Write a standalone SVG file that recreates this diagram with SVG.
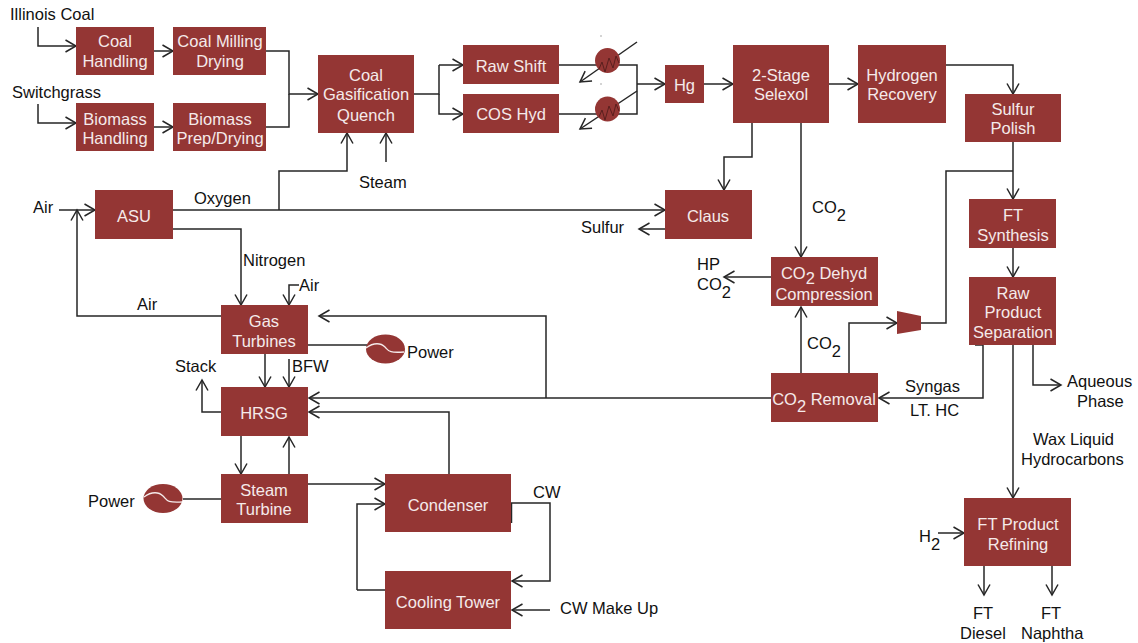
<svg xmlns="http://www.w3.org/2000/svg" width="1138" height="643" viewBox="0 0 1138 643">
<style>
.b{fill:#943634}
.w{font:16.5px "Liberation Sans",Arial,sans-serif;fill:#f5eaea;text-anchor:middle}
.t{font:16.5px "Liberation Sans",Arial,sans-serif;fill:#111}
.c path{fill:none;stroke:#262626;stroke-width:1.5}
.a{marker-end:url(#ah)}
.z{fill:none;stroke:#5a1f1e;stroke-width:1}
.g{fill:none;stroke:#f5eaea;stroke-width:1.300}
</style>
<defs>
<marker id="ah" markerUnits="userSpaceOnUse" markerWidth="14" markerHeight="16" refX="12" refY="8" orient="auto"><path d="M1.500 2L12 8L1.500 14" fill="none" stroke="#262626" stroke-width="1.500"/></marker>
</defs>
<rect width="1138" height="643" fill="#fff"/>
<g id="connectors" class="c">
<path class="a" d="M38 27V46H76"/>
<path class="a" d="M38 104V123H76"/>
<path class="a" d="M154 51H173"/>
<path class="a" d="M154 127H173"/>
<path class="a" d="M266 51H289V94H318"/>
<path d="M266 127H289V94"/>
<path d="M414 94H439V65"/>
<path class="a" d="M439 65H463"/>
<path class="a" d="M439 94V114H463"/>
<path d="M559 65H637V114H559"/>
<path class="a" d="M637 84H665"/>
<path class="a" d="M637 42L580 82"/>
<path class="a" d="M637 91L580 129"/>
<path class="a" d="M704 84H733"/>
<path class="a" d="M829 84H858"/>
<path class="a" d="M946 65H1013V94"/>
<path class="a" d="M752 123V157H724V190"/>
<path class="a" d="M801 123V257"/>
<path class="a" d="M801 373V307"/>
<path class="a" d="M771 277H724"/>
<path class="a" d="M849 373V323H897"/>
<path d="M921 323H946V171H1013"/>
<path class="a" d="M1013 142V199"/>
<path class="a" d="M1013 248V277"/>
<path class="a" d="M975 345H983V398H879"/>
<path class="a" d="M1033 345V385H1061"/>
<path class="a" d="M1013 345V498"/>
<path class="a" d="M938 533H964"/>
<path class="a" d="M984 566V595"/>
<path class="a" d="M1052 566V595"/>
<path class="a" d="M59 210H95"/>
<path class="a" d="M173 210H665"/>
<path class="a" d="M279 210V171H347V133"/>
<path class="a" d="M386 162V133"/>
<path class="a" d="M173 229H241V305"/>
<path class="a" d="M221 316H77V210"/>
<path class="a" d="M299 285H289V305"/>
<path class="a" d="M665 229H639"/>
<path class="a" d="M771 398H309"/>
<path class="a" d="M546 398V316H319"/>
<path d="M308 345H367"/>
<path class="a" d="M265 354V387"/>
<path class="a" d="M289 359V387"/>
<path class="a" d="M221 412H202V380"/>
<path class="a" d="M241 436V474"/>
<path class="a" d="M289 474V437"/>
<path class="a" d="M449 474V412H309"/>
<path d="M183 499H221"/>
<path class="a" d="M308 484H385"/>
<path class="a" d="M357 590V504H385"/>
<path d="M385 590H357"/>
<path d="M511.500 523V503"/>
<path class="a" d="M511 503H550V581H512"/>
<path class="a" d="M550 610H512"/>
</g>
<g id="coal-handling"><rect class="b" x="76" y="27" width="78" height="48"/><text class="w" x="115" y="47">Coal</text><text class="w" x="115" y="67">Handling</text></g>
<g id="coal-milling"><rect class="b" x="173" y="27" width="93" height="48"/><text class="w" x="220" y="47">Coal Milling</text><text class="w" x="220" y="67">Drying</text></g>
<g id="biomass-handling"><rect class="b" x="76" y="103" width="78" height="48"/><text class="w" x="115" y="125">Biomass</text><text class="w" x="115" y="144">Handling</text></g>
<g id="biomass-prep"><rect class="b" x="173" y="103" width="93" height="48"/><text class="w" x="220" y="125">Biomass</text><text class="w" x="220" y="144">Prep/Drying</text></g>
<g id="gasification"><rect class="b" x="318" y="55" width="96" height="78"/><text class="w" x="366" y="81">Coal</text><text class="w" x="366" y="100">Gasification</text><text class="w" x="366" y="121">Quench</text></g>
<g id="raw-shift"><rect class="b" x="463" y="45" width="96" height="39"/><text class="w" x="511" y="72">Raw Shift</text></g>
<g id="cos-hyd"><rect class="b" x="463" y="94" width="96" height="39"/><text class="w" x="511" y="120">COS Hyd</text></g>
<g id="hx1"><circle class="b" cx="607.500" cy="60.500" r="12.500"/><path class="z" d="M599 69L602 62L605 72L609 58L613 68L616 56L619 63"/><rect x="600.500" y="35.500" width="1" height="1" fill="#555"/></g>
<g id="hx2"><circle class="b" cx="607.500" cy="109" r="12.500"/><path class="z" d="M599 117L602 110L605 120L609 106L613 116L616 104L619 111"/><rect x="600.500" y="83.500" width="1" height="1" fill="#555"/></g>
<g id="hg"><rect class="b" x="665" y="65" width="39" height="38"/><text class="w" x="684.500" y="91">Hg</text></g>
<g id="selexol"><rect class="b" x="733" y="45" width="96" height="78"/><text class="w" x="781" y="81">2-Stage</text><text class="w" x="781" y="100">Selexol</text></g>
<g id="hydrogen-recovery"><rect class="b" x="858" y="45" width="88" height="78"/><text class="w" x="902" y="81">Hydrogen</text><text class="w" x="902" y="100">Recovery</text></g>
<g id="sulfur-polish"><rect class="b" x="965" y="94" width="96" height="48"/><text class="w" x="1013" y="115">Sulfur</text><text class="w" x="1013" y="134">Polish</text></g>
<g id="asu"><rect class="b" x="95" y="190" width="78" height="49"/><text class="w" x="134" y="222">ASU</text></g>
<g id="claus"><rect class="b" x="665" y="190" width="87" height="49"/><text class="w" x="708" y="222">Claus</text></g>
<g id="ft-synthesis"><rect class="b" x="969" y="199" width="87" height="49"/><text class="w" x="1013" y="221">FT</text><text class="w" x="1013" y="241">Synthesis</text></g>
<g id="raw-product"><rect class="b" x="969" y="277" width="87" height="68"/><text class="w" x="1013" y="299">Raw</text><text class="w" x="1013" y="318">Product</text><text class="w" x="1013" y="338">Separation</text></g>
<g id="co2-dehyd"><rect class="b" x="771" y="257" width="107" height="49"/><text class="w" x="824" y="279">CO<tspan dy="5">2</tspan><tspan dy="-5"> Dehyd</tspan></text><text class="w" x="824" y="300">Compression</text></g>
<g id="co2-removal"><rect class="b" x="771" y="373" width="107" height="49"/><text class="w" x="824" y="405">CO<tspan dy="7">2</tspan><tspan dy="-7"> Removal</tspan></text></g>
<g id="compressor"><path class="b" d="M897 311L921 316V330L897 334Z"/></g>
<g id="gas-turbines"><rect class="b" x="221" y="305" width="87" height="49"/><text class="w" x="264" y="327">Gas</text><text class="w" x="264" y="347">Turbines</text></g>
<g id="hrsg"><rect class="b" x="221" y="387" width="87" height="49"/><text class="w" x="264" y="419">HRSG</text></g>
<g id="steam-turbine"><rect class="b" x="221" y="474" width="87" height="49"/><text class="w" x="264" y="496">Steam</text><text class="w" x="264" y="515">Turbine</text></g>
<g id="condenser"><rect class="b" x="385" y="474" width="126" height="58"/><text class="w" x="448" y="511">Condenser</text></g>
<g id="cooling-tower"><rect class="b" x="385" y="571" width="126" height="58"/><text class="w" x="448" y="608">Cooling Tower</text></g>
<g id="ft-refining"><rect class="b" x="964" y="498" width="107" height="68"/><text class="w" x="1018" y="530">FT Product</text><text class="w" x="1018" y="550">Refining</text></g>
<g id="gen1"><ellipse class="b" cx="385.500" cy="349" rx="19.500" ry="14.500"/><path class="g" d="M366 348C374 342 381 343 385 347S388 353 404 352"/></g>
<g id="gen2"><ellipse class="b" cx="163" cy="498.500" rx="19.500" ry="14.500"/><path class="g" d="M144 497C152 491 159 492 163 496S166 503 182 502"/></g>
<g id="labels" class="t">
<text x="10" y="20">Illinois Coal</text>
<text x="12" y="98">Switchgrass</text>
<text x="33" y="213">Air</text>
<text x="194" y="204">Oxygen</text>
<text x="359" y="188">Steam</text>
<text x="581" y="233">Sulfur</text>
<text x="812" y="213">CO<tspan dy="8">2</tspan></text>
<text x="697" y="270">HP</text>
<text x="697" y="290">CO<tspan dy="8">2</tspan></text>
<text x="807" y="349">CO<tspan dy="8">2</tspan></text>
<text x="905" y="392">Syngas</text>
<text x="910" y="416">LT. HC</text>
<text x="1067" y="387">Aqueous</text>
<text x="1077" y="407">Phase</text>
<text x="1033" y="445">Wax Liquid</text>
<text x="1021" y="465">Hydrocarbons</text>
<text x="919" y="542">H<tspan dy="8">2</tspan></text>
<text x="973" y="619">FT</text>
<text x="960" y="639">Diesel</text>
<text x="1041" y="619">FT</text>
<text x="1021" y="639">Naphtha</text>
<text x="243" y="266">Nitrogen</text>
<text x="137" y="310">Air</text>
<text x="299" y="291">Air</text>
<text x="407" y="358">Power</text>
<text x="175" y="372">Stack</text>
<text x="292" y="372">BFW</text>
<text x="88" y="507">Power</text>
<text x="533" y="498">CW</text>
<text x="560" y="614">CW Make Up</text>
</g>
</svg>
